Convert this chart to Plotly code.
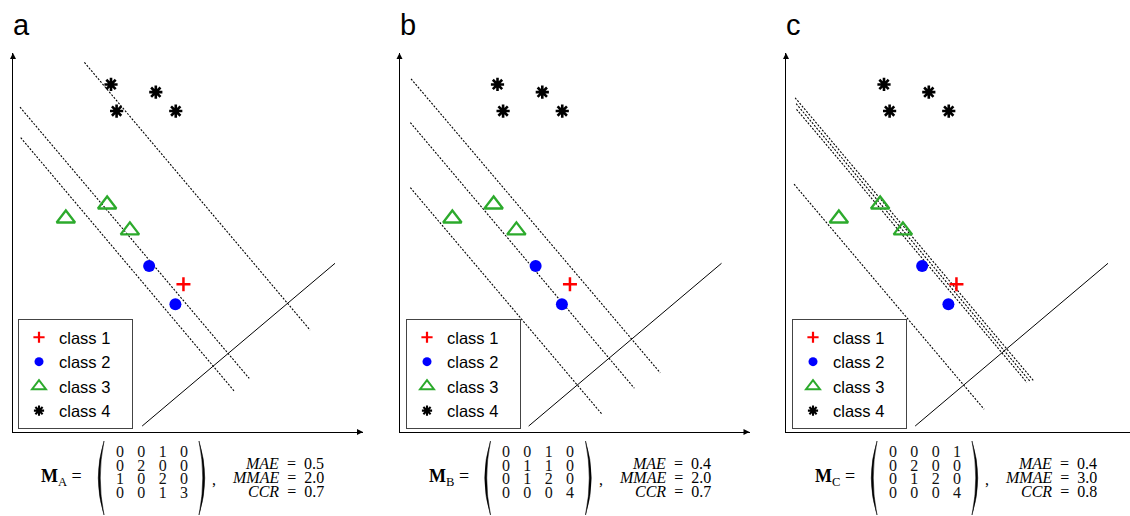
import plotly.graph_objects as go

# ---------------- data ----------------
panel_labels = ["a", "b", "c"]
matrix_names = ["A", "B", "C"]
class_names = ["class 1", "class 2", "class 3", "class 4"]

# pattern coordinates (identical in the three panels)
c1_x = [4.87]
c1_y = [4.22]
c2_x = [3.89, 4.64]
c2_y = [4.74, 3.65]
c3_x = [1.51, 2.69, 3.34]
c3_y = [6.10, 6.50, 5.76]
c4_x = [2.80, 4.08, 2.96, 4.65]
c4_y = [9.93, 9.71, 9.17, 9.17]

# dashed threshold lines: (x0, y0, x1, y1) per panel
thresholds_a = [(2.04, 10.56, 8.49, 2.91), (0.20, 9.28, 6.75, 1.53), (0.22, 8.41, 6.32, 1.17)]
thresholds_b = [(0.33, 10.09, 7.45, 1.69), (0.31, 8.84, 6.71, 1.25), (0.31, 6.98, 5.80, 0.49)]
thresholds_c = [(0.26, 9.55, 7.07, 1.47), (0.29, 9.38, 6.97, 1.45), (0.30, 9.22, 6.88, 1.42),
                (0.23, 7.08, 5.66, 0.65)]
thresholds = [thresholds_a, thresholds_b, thresholds_c]

# projection direction (solid line)
proj_x = [3.69, 9.20]
proj_y = [0.17, 4.82]

# confusion matrices and metrics
M_A = [[0, 0, 1, 0], [0, 2, 0, 0], [1, 0, 2, 0], [0, 0, 1, 3]]
M_B = [[0, 0, 1, 0], [0, 1, 1, 0], [0, 1, 2, 0], [0, 0, 0, 4]]
M_C = [[0, 0, 0, 1], [0, 2, 0, 0], [0, 1, 2, 0], [0, 0, 0, 4]]
matrices = [M_A, M_B, M_C]
mae = [0.5, 0.4, 0.4]
mmae = [2.0, 2.0, 3.0]
ccr = [0.7, 0.7, 0.8]

# ---------------- layout helpers ----------------
W, H = 1130, 516
S = 35.0                      # px per data unit
origins = [13.0, 399.5, 786.0]
x_ends = [363.0, 749.5, 1130.0]
AX_TOP, AX_BOT = 53.0, 432.0
panel_dx = [0.0, 386.5, 773.0]


def px(xp):
    return xp / W


def py(yp):
    return 1 - yp / H


SANS = "Liberation Sans, Arial, sans-serif"
SERIF = "Liberation Serif, Times New Roman, serif"

RED, BLUE, GREEN = "rgb(255,0,0)", "rgb(0,0,255)", "rgb(44,170,44)"

fig = go.Figure()
annotations = []
shapes = []
layout_axes = {}

markers = [
    dict(symbol="cross-thin-open", size=10, color=RED, line=dict(width=2.5, color=RED)),
    dict(symbol="circle", size=12, color=BLUE, line=dict(width=0)),
    dict(symbol="triangle-up-open", size=16, color=GREEN, line=dict(width=2.3, color=GREEN)),
    dict(symbol="asterisk-open", size=11, color="black", line=dict(width=2.6, color="black")),
]
legend_markers = [
    dict(symbol="cross-thin-open", size=8, color=RED, line=dict(width=2.2, color=RED)),
    dict(symbol="circle", size=9, color=BLUE, line=dict(width=0)),
    dict(symbol="triangle-up-open", size=12, color=GREEN, line=dict(width=2, color=GREEN)),
    dict(symbol="asterisk-open", size=8.5, color="black", line=dict(width=2.1, color="black")),
]
class_x = [c1_x, c2_x, c3_x, c4_x]
class_y = [c1_y, c2_y, c3_y, c4_y]
legend_ids = ["legend", "legend2", "legend3"]
legend_left = [18.0, 406.0, 792.0]

for i in range(3):
    xname = "x" if i == 0 else f"x{i+1}"
    yname = "y" if i == 0 else f"y{i+1}"
    xa = "xaxis" if i == 0 else f"xaxis{i+1}"
    ya = "yaxis" if i == 0 else f"yaxis{i+1}"
    xr = (x_ends[i] - origins[i]) / S
    yr = (AX_BOT - AX_TOP) / S
    common = dict(showgrid=False, zeroline=False, showticklabels=False, ticks="",
                  showline=True, linecolor="black", linewidth=1, fixedrange=True)
    layout_axes[xa] = dict(domain=[px(origins[i]), px(x_ends[i])], range=[0, xr], anchor=yname, **common)
    layout_axes[ya] = dict(domain=[py(AX_BOT), py(AX_TOP)], range=[0, yr], anchor=xname, **common)

    # threshold lines
    for (x0, y0, x1, y1) in thresholds[i]:
        fig.add_trace(go.Scatter(x=[x0, x1], y=[y0, y1], mode="lines", xaxis=xname, yaxis=yname,
                                 line=dict(color="black", width=1.1, dash="2px,1.5px"),
                                 showlegend=False, hoverinfo="skip", cliponaxis=False))
    # projection line
    fig.add_trace(go.Scatter(x=proj_x, y=proj_y, mode="lines", xaxis=xname, yaxis=yname,
                             line=dict(color="black", width=1), showlegend=False, hoverinfo="skip",
                             cliponaxis=False))
    # arrow heads at axis ends
    ax_pts_x = [0, 10] if i < 2 else [0]
    ax_pts_y = [yr, 0] if i < 2 else [yr]
    ax_syms = ["arrow-up", "arrow-right"] if i < 2 else ["arrow-up"]
    fig.add_trace(go.Scatter(x=ax_pts_x, y=ax_pts_y, mode="markers", xaxis=xname, yaxis=yname,
                             marker=dict(symbol=ax_syms, size=6, color="black", line=dict(width=0)),
                             showlegend=False, hoverinfo="skip", cliponaxis=False))
    # points
    for k in range(4):
        fig.add_trace(go.Scatter(x=class_x[k], y=class_y[k], mode="markers", name=class_names[k],
                                 xaxis=xname, yaxis=yname, marker=markers[k], showlegend=False,
                                 cliponaxis=False))
    # legend entries (smaller symbols as in the reference)
    for k in range(4):
        fig.add_trace(go.Scatter(x=[None], y=[None], mode="markers", name=class_names[k] + "\u2002\u2002",
                                 xaxis=xname, yaxis=yname, marker=legend_markers[k],
                                 legend=legend_ids[i], hoverinfo="skip"))

    # panel label
    annotations.append(dict(x=px(origins[i] - 2), y=py(25), xref="paper", yref="paper", text=panel_labels[i],
                            showarrow=False, xanchor="left", yanchor="middle",
                            font=dict(family=SANS, size=29, color="black")))

    # ---- equation below the panel ----
    dx = panel_dx[i]
    annotations.append(dict(x=px(84 + dx), y=py(477), xref="paper", yref="paper",
                            text=f"<b>M</b><sub>{matrix_names[i]}</sub> =", showarrow=False,
                            xanchor="right", yanchor="middle", font=dict(family=SERIF, size=18, color="black")))
    M = matrices[i]
    sep = "\u2002\u2005\u200a"
    row_y = [451.5, 465, 478.5, 492]
    for r in range(4):
        row_txt = sep.join(str(v) for v in M[r])
        annotations.append(dict(x=px(151.5 + dx), y=py(row_y[r]), xref="paper", yref="paper",
                                text=row_txt, showarrow=False, xanchor="center", yanchor="middle",
                                font=dict(family=SERIF, size=16, color="#111")))
    # parentheses (crescent shapes)
    top, bot = 441.0, 515.0
    mid = (top + bot) / 2
    lx_end, lx_out, lx_in = 104 + dx, 92.5 + dx, 96.5 + dx
    rx_end, rx_out, rx_in = 199 + dx, 210.5 + dx, 206.5 + dx
    for (e, o, n) in [(lx_end, lx_out, lx_in), (rx_end, rx_out, rx_in)]:
        path = (f"M {px(e)},{py(top)} Q {px(o)},{py(mid)} {px(e)},{py(bot)} "
                f"Q {px(n)},{py(mid)} {px(e)},{py(top)} Z")
        shapes.append(dict(type="path", xref="paper", yref="paper", path=path,
                           fillcolor="black", line=dict(color="black", width=0.5)))
    annotations.append(dict(x=px(214 + dx), y=py(479), xref="paper", yref="paper", text=",",
                            showarrow=False, xanchor="center", yanchor="middle",
                            font=dict(family=SERIF, size=16, color="black")))
    sp = "\u2002"
    metric_lines = [("MAE", mae[i]), ("MMAE", mmae[i]), ("CCR", ccr[i])]
    for j, (nm, val) in enumerate(metric_lines):
        annotations.append(dict(x=px(326 + dx), y=py(463 + 14 * j), xref="paper", yref="paper",
                                text=f"<i>{nm}</i>{sp}={sp}{val:.1f}", showarrow=False,
                                xanchor="right", yanchor="middle",
                                font=dict(family=SERIF, size=16, color="black")))

legend_common = dict(xanchor="left", yanchor="top", bgcolor="white", bordercolor="#444", borderwidth=1,
                     font=dict(family=SANS, size=16.5, color="black"), itemsizing="trace",
                     traceorder="normal", tracegroupgap=0)
legends = {}
for i in range(3):
    legends[legend_ids[i]] = dict(x=px(legend_left[i]), y=py(319), **legend_common)

fig.update_layout(
    width=W, height=H, margin=dict(l=0, r=0, t=0, b=0),
    paper_bgcolor="white", plot_bgcolor="white",
    annotations=annotations, shapes=shapes, showlegend=True,
    **layout_axes, **legends,
)

fig.write_html("out.html", config={"displayModeBar": False},
               post_script="document.body.style.margin='0px';")
